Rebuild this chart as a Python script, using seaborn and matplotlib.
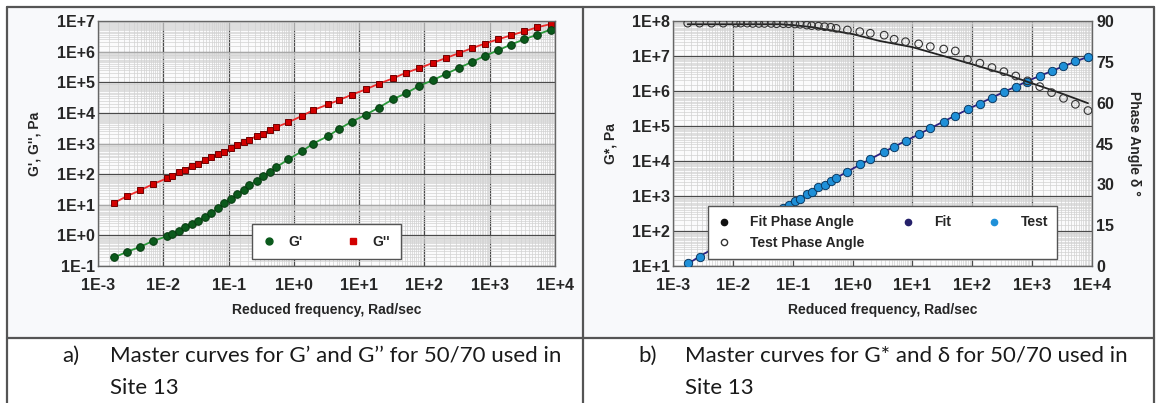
import numpy as np
import pandas as pd
import matplotlib.pyplot as plt
import seaborn as sns
from matplotlib.lines import Line2D
from matplotlib.patches import Rectangle
from matplotlib.ticker import LogLocator, FuncFormatter, NullFormatter

freq = [1.76e-3, 2.78e-3, 4.40e-3, 6.89e-3, 1.13e-2, 1.35e-2, 1.74e-2, 2.15e-2,
        2.72e-2, 3.37e-2, 4.36e-2, 5.37e-2, 6.95e-2, 8.51e-2, 0.109, 0.133,
        0.172, 0.207, 0.269, 0.340, 0.431, 0.532, 0.820, 1.32, 1.98, 3.37,
        4.95, 7.67, 12.7, 19.9, 33.3, 52.1, 83.2, 134, 213, 337, 533, 836,
        1340, 2110, 3340, 5280, 8570]

# G' (Pa)
g_storage = [0.19, 0.29, 0.42, 0.65, 0.93, 1.10, 1.41, 1.82, 2.34, 2.95, 3.89,
             5.5, 7.6, 11.0, 15.0, 22.4, 30, 44.7, 58, 87, 115, 166, 302, 550,
             1000, 1760, 3020, 5130, 8710, 14800, 28200, 43600, 75900, 117000,
             186000, 295000, 457000, 724000, 1.10e6, 1.70e6, 2.51e6, 3.55e6,
             5.25e6]

# G'' (Pa)
g_loss = [11.5, 19.1, 29.5, 46.8, 72.4, 87.1, 117, 141, 186, 219, 288, 363,
          457, 525, 708, 870, 1150, 1350, 1740, 2090, 2820, 3390, 4900, 7900,
          12300, 19100, 26300, 38900, 58900, 89100, 135000, 204000, 288000,
          427000, 617000, 891000, 1.29e6, 1.82e6, 2.51e6, 3.39e6, 4.57e6,
          6.17e6, 7.94e6]

# G* test (Pa)
g_star = [12.0, 18.6, 29.5, 46.8, 72.4, 87.1, 117, 141, 186, 219, 288, 363,
          468, 550, 741, 832, 1120, 1290, 1780, 2040, 2750, 3310, 4900, 8130,
          11500, 18600, 25700, 38000, 57500, 89100, 132000, 195000, 302000,
          437000, 646000, 933000, 1.32e6, 1.82e6, 2.69e6, 3.72e6, 5.13e6,
          7.08e6, 9.55e6]

# angle de phase test (degrés)
phase_test = [89.2, 89.2, 89.2, 89.2, 89.2, 89.2, 89.2, 89.1, 89.1, 89.1, 89.1,
              89.0, 89.0, 89.0, 88.9, 88.8, 88.5, 88.3, 88.1, 87.9, 87.7, 87.3,
              86.7, 86.1, 85.5, 84.8, 83.3, 82.4, 81.6, 80.6, 79.7, 79.0, 75.9,
              74.5, 72.9, 71.4, 69.8, 68.0, 65.9, 63.7, 61.6, 59.4, 57.1]

# courbes ajustées
fit_freq = [1.76e-3, 3.16e-3, 1e-2, 3.16e-2, 0.1, 0.316, 1, 3.16, 10, 31.6,
            100, 316, 1000, 3160, 8570]
fit_gstar = [11.5, 21.4, 63, 204, 660, 2000, 6000, 17400, 46800, 129000,
             347000, 891000, 2.19e6, 4.9e6, 9.55e6]

fit_phase_freq = [1.76e-3, 1e-2, 3e-2, 6.3e-2, 0.1, 0.22, 1, 2.8, 10, 36, 100,
                  363, 1000, 3090, 8570]
fit_phase = [88.8, 88.8, 88.8, 88.8, 88.5, 87.7, 85.2, 82.7, 80.4, 76.9, 74.1,
             70.4, 67.1, 63.4, 59.8]

sns.set_style('white')
plt.rcParams['font.family'] = ['Liberation Sans', 'DejaVu Sans']

W, H = 1156, 403
fig = plt.figure(figsize=(W / 100, H / 100), dpi=100)
fig.patch.set_facecolor('white')


def fx(px):
    return px / W


def fy(py):
    return 1 - py / H


# fond des cellules graphiques + cadre du tableau
fig.add_artist(Rectangle((fx(7), fy(338)), fx(1153.5 - 7), fy(7) - fy(338),
                         transform=fig.transFigure, facecolor='#f8f9fb',
                         edgecolor='none', zorder=-5))
frame = dict(color='#555555', lw=1.6, transform=fig.transFigure)
fig.add_artist(Line2D([fx(7), fx(1153.5)], [fy(7), fy(7)], **frame))
fig.add_artist(Line2D([fx(7), fx(1153.5)], [fy(338), fy(338)], **frame))
fig.add_artist(Line2D([fx(7), fx(7)], [fy(7), 0], **frame))
fig.add_artist(Line2D([fx(582.5), fx(582.5)], [fy(7), 0], **frame))
fig.add_artist(Line2D([fx(1153.5), fx(1153.5)], [fy(7), 0], **frame))

tick_fmt = FuncFormatter(lambda v, p: f"1E{int(round(np.log10(v))):+d}")


def style_log_axes(ax, xlim, ylim):
    ax.set_xscale('log')
    ax.set_yscale('log')
    ax.set_xlim(*xlim)
    ax.set_ylim(*ylim)
    ax.set_facecolor('#fbfbfc')
    for axis in (ax.xaxis, ax.yaxis):
        axis.set_major_locator(LogLocator(base=10, numticks=20))
        axis.set_minor_locator(LogLocator(base=10, subs=np.arange(1.5, 10, 0.5), numticks=20))
        axis.set_major_formatter(tick_fmt)
        axis.set_minor_formatter(NullFormatter())
    ax.grid(True, which='major', color='#4a4a4a', lw=0.9)
    ax.grid(True, which='minor', color='#d2d2d2', lw=0.5)
    ax.tick_params(which='both', length=0)
    ax.tick_params(axis='x', pad=9, labelsize=11.5)
    ax.tick_params(axis='y', pad=2, labelsize=11.5)
    for lab in ax.get_xticklabels() + ax.get_yticklabels():
        lab.set_fontweight('bold')
    for sp in ax.spines.values():
        sp.set_color('#666666')
        sp.set_linewidth(1.0)
    ax.set_axisbelow(True)


# ---- a) G' et G''
ax_a = fig.add_axes([fx(98), fy(266), fx(555 - 98), fy(21) - fy(266)])
sns.lineplot(x=freq, y=g_loss, ax=ax_a, color='#ee2b2b', lw=1.3, estimator=None,
             marker='s', markersize=5, markerfacecolor='#d20000',
             markeredgecolor='#700000', markeredgewidth=0.7)
sns.lineplot(x=freq, y=g_storage, ax=ax_a, color='#2b9a3b', lw=1.3, estimator=None,
             marker='o', markersize=5.5, markerfacecolor='#0b5a1c',
             markeredgecolor='#063a10', markeredgewidth=0.7)
style_log_axes(ax_a, (1e-3, 1e4), (1e-1, 1e7))
ax_a.set_xlabel('Reduced frequency, Rad/sec', fontsize=10, fontweight='bold')
ax_a.set_ylabel("G', G'', Pa", fontsize=10, fontweight='bold')
ax_a.xaxis.set_label_coords(0.5, -0.18)
ax_a.yaxis.set_label_coords(-0.138, 0.5)
ax_a.xaxis.label.set_va('center')
ax_a.yaxis.label.set_va('center')

h_a = [Line2D([], [], ls='', marker='o', markersize=5, color='#0b5a1c'),
       Line2D([], [], ls='', marker='s', markersize=5, color='#d20000')]
leg = ax_a.legend(h_a, ["G'", "G''"], ncol=2, loc='lower left',
                  bbox_to_anchor=(0.337, 0.028), borderaxespad=0,
                  frameon=True, fancybox=False,
                  framealpha=1, edgecolor='#555555', borderpad=0.75,
                  handlelength=1.0, handletextpad=0.9, columnspacing=3.1,
                  prop={'weight': 'bold', 'size': 10})
leg.get_frame().set_linewidth(1.0)

# ---- b) G* et angle de phase
ax_b = fig.add_axes([fx(673), fy(266), fx(1092 - 673), fy(21) - fy(266)])
ax_c = ax_b.twinx()
sns.lineplot(x=fit_freq, y=fit_gstar, ax=ax_b, color='#2e2283', lw=1.3,
             estimator=None)
sns.scatterplot(x=freq, y=g_star, ax=ax_b, color='#1f90d8', s=36,
                edgecolor='#0b3a63', linewidth=0.7, zorder=4)
sns.lineplot(x=fit_phase_freq, y=fit_phase, ax=ax_c, color='#222222', lw=1.3,
             estimator=None)
sns.scatterplot(x=freq, y=phase_test, ax=ax_c, color='none', s=30,
                edgecolor='#333333', linewidth=0.8, zorder=4)
style_log_axes(ax_b, (1e-3, 1e4), (1e1, 1e8))
ax_b.set_xlabel('Reduced frequency, Rad/sec', fontsize=10, fontweight='bold')
ax_b.set_ylabel('G*, Pa', fontsize=10, fontweight='bold')
ax_b.xaxis.set_label_coords(0.5, -0.18)
ax_b.yaxis.set_label_coords(-0.150, 0.5)
ax_b.xaxis.label.set_va('center')
ax_b.yaxis.label.set_va('center')

ax_c.set_ylim(0, 90)
ax_c.set_yticks(range(0, 91, 15))
ax_c.tick_params(length=0, pad=3, labelsize=11.5)
for lab in ax_c.get_yticklabels():
    lab.set_fontweight('bold')
ax_c.grid(False)
for sp in ax_c.spines.values():
    sp.set_visible(False)
ax_c.set_ylabel('Phase Angle δ °', fontsize=10, fontweight='bold', rotation=270)
ax_c.yaxis.set_label_coords(1.100, 0.5)
ax_c.yaxis.label.set_va('center')

h_b = [Line2D([], [], ls='', marker='o', markersize=4.5, color='#111111'),
       Line2D([], [], ls='', marker='o', markersize=4.5, markerfacecolor='white',
              markeredgecolor='#333333'),
       Line2D([], [], ls='', marker='o', markersize=4.5, color='#25206a'),
       Line2D([], [], ls='', marker='o', markersize=4.5, color='#1f90d8')]
leg_b = ax_c.legend(h_b, ['Fit Phase Angle', 'Test Phase Angle', 'Fit', 'Test'],
                    ncol=3, loc='lower left', bbox_to_anchor=(0.083, 0.027),
                    borderaxespad=0, frameon=True, fancybox=False, framealpha=1,
                    edgecolor='#555555', borderpad=0.65, labelspacing=0.5,
                    handlelength=1.0, handletextpad=1.4, columnspacing=2.6,
                    prop={'weight': 'bold', 'size': 10})
leg_b.get_frame().set_linewidth(1.0)

# ---- légendes du tableau
cap = dict(fontsize=16, family=['Lato', 'DejaVu Sans'], color='#1a1a1a', va='center')
fig.text(fx(62), fy(356), 'a)', **cap)
fig.text(fx(110), fy(356), 'Master curves for G’ and G’’ for 50/70 used in', **cap)
fig.text(fx(110), fy(388), 'Site 13', **cap)
fig.text(fx(638), fy(356), 'b)', **cap)
fig.text(fx(685), fy(356), 'Master curves for G* and δ for 50/70 used in', **cap)
fig.text(fx(685), fy(388), 'Site 13', **cap)

fig.savefig('out.png', dpi=100)
